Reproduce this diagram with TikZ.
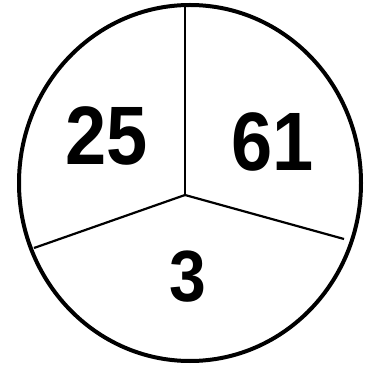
\documentclass[tikz,border=0pt]{standalone}
\usepackage{fontspec}
\setmainfont{Liberation Sans}
\usepackage{tikz}
\usetikzlibrary{positioning,calc}

\begin{document}
\begin{tikzpicture}[
    x=1pt, y=1pt,
    rim/.style={draw=black, line width=4pt},
    spoke/.style={draw=black, line width=2.2pt},
    num/.style={inner sep=0pt, font=\bfseries\fontsize{74}{74}\selectfont},
    numsmall/.style={inner sep=0pt, font=\bfseries\fontsize{66}{66}\selectfont}
]
    \useasboundingbox (0,0) rectangle (366,367);
    \fill [white] (0,0) rectangle (366,367);

    \coordinate (hub) at (185,172);
    \coordinate (top) at (185,364);
    \coordinate (lft) at (34,119);
    \coordinate (rgt) at (344,128);

    \draw [spoke] (hub) -- (top);
    \draw [spoke] (hub) -- (lft);
    \draw [spoke] (hub) -- (rgt);
    \draw [rim] (190,184) ellipse [x radius=171, y radius=178];

    \node [num] (left) at (107,231) {\scalebox{1}[1.12]{25}};
    \node [num] (right) at (273,225) {\scalebox{1}[1.12]{61}};
    \node [numsmall] (bottom) at (188,90) {\scalebox{1}[1.1]{3}};
\end{tikzpicture}
\end{document}
